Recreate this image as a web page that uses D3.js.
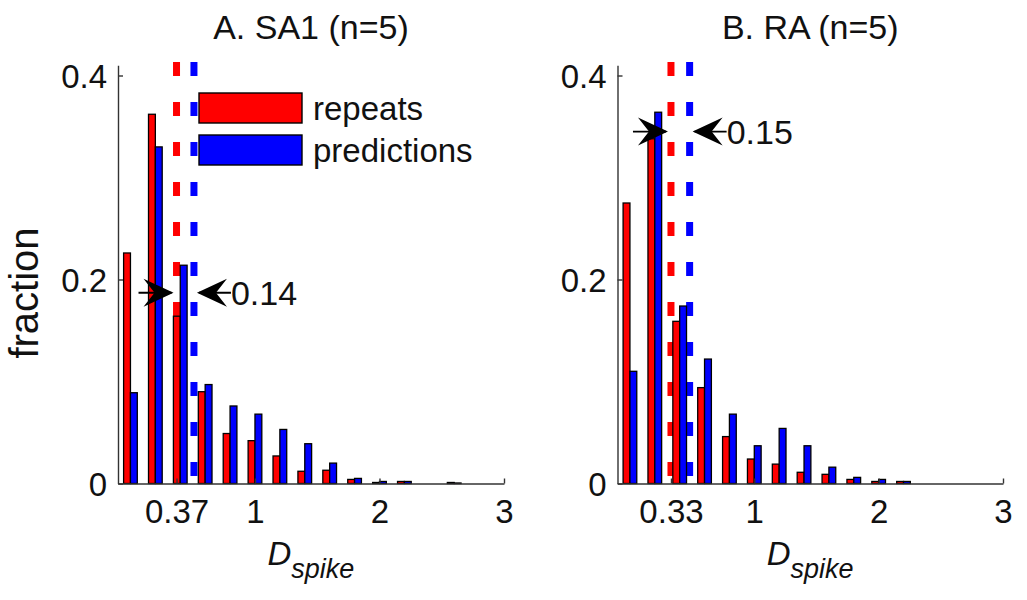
<!DOCTYPE html>
<html><head><meta charset="utf-8">
<script src="https://cdn.jsdelivr.net/npm/d3@7"></script>
<style>body{margin:0;background:#fff}svg{display:block}text{font-family:"Liberation Sans",Arial,sans-serif;fill:#111}</style>
</head><body><svg id="c" width="1027" height="600"></svg>
<script>
// ---- data ----
const binCenters = [0, 0.2, 0.4, 0.6, 0.8, 1.0, 1.2, 1.4, 1.6, 1.8, 2.0, 2.2, 2.4, 2.6];
const sa1Repeats     = [0.226, 0.362, 0.164, 0.090, 0.049, 0.042, 0.027, 0.012, 0.013, 0.004, 0.001, 0.002, 0, 0.001];
const sa1Predictions = [0.089, 0.330, 0.214, 0.097, 0.076, 0.068, 0.053, 0.039, 0.020, 0.005, 0.002, 0.002, 0, 0.0005];
const raRepeats      = [0.275, 0.338, 0.159, 0.094, 0.046, 0.024, 0.019, 0.011, 0.009, 0.004, 0.002, 0.002, 0, 0];
const raPredictions  = [0.110, 0.364, 0.174, 0.122, 0.068, 0.037, 0.054, 0.037, 0.016, 0.006, 0.004, 0.002, 0, 0];
const panelTitles = ["A. SA1 (n=5)", "B. RA (n=5)"];
const meanRepeats = [0.37, 0.33];
const meanPredictions = [0.51, 0.48];
const diffLabels = ["0.14", "0.15"];
const arrowLevels = [0.187, 0.345];
const xTickValues = [[0.37, 1, 2, 3], [0.33, 1, 2, 3]];
const xTickLabels = [["0.37", "1", "2", "3"], ["0.33", "1", "2", "3"]];
const yTickValues = [0, 0.2, 0.4];
const seriesNames = ["repeats", "predictions"];
const seriesColors = ["#ff0000", "#0000ff"];

const svg = d3.select("#c");
const panels = [
  {left: 118, right: 504, rep: sa1Repeats, pred: sa1Predictions},
  {left: 617.5, right: 1003, rep: raRepeats, pred: raPredictions}
];
const barW = 0.055;

panels.forEach((p, i) => {
  const x = d3.scaleLinear().domain([-0.1, 3]).range([p.left, p.right]);
  const y = d3.scaleLinear().domain([0, 0.41]).range([483.5, 65.3]);
  const g = svg.append("g");

  // dashed mean lines
  [[meanRepeats[i], seriesColors[0]], [meanPredictions[i], seriesColors[1]]].forEach(([v, c]) => {
    g.append("line").attr("x1", x(v)).attr("x2", x(v)).attr("y1", 62).attr("y2", y(0))
      .attr("stroke", c).attr("stroke-width", 7).attr("stroke-dasharray", "14,26");
  });

  // bars
  const data = binCenters.map((b, k) => ({b, r: p.rep[k], q: p.pred[k]}));
  g.selectAll("rect.r").data(data.filter(d => d.r > 0)).join("rect")
    .attr("x", d => x(d.b - barW)).attr("width", d => x(barW) - x(0))
    .attr("y", d => y(d.r)).attr("height", d => y(0) - y(d.r))
    .attr("fill", seriesColors[0]).attr("stroke", "#000").attr("stroke-width", 1.3);
  g.selectAll("rect.q").data(data.filter(d => d.q > 0)).join("rect")
    .attr("x", d => x(d.b)).attr("width", d => x(barW) - x(0))
    .attr("y", d => y(d.q)).attr("height", d => y(0) - y(d.q))
    .attr("fill", seriesColors[1]).attr("stroke", "#000").attr("stroke-width", 1.3);

  // axes
  const xAxis = d3.axisBottom(x).tickValues(xTickValues[i]).tickFormat((d, k) => xTickLabels[i][k])
    .tickSizeInner(-5).tickSizeOuter(0).tickPadding(16);
  const yAxis = d3.axisLeft(y).tickValues(yTickValues).tickFormat(d => d === 0 ? "0" : d3.format(".1f")(d))
    .tickSizeInner(-5).tickSizeOuter(0).tickPadding(11);
  const xa = g.append("g").attr("transform", `translate(0,${y(0)})`).call(xAxis);
  const ya = g.append("g").attr("transform", `translate(${p.left},0)`).call(yAxis);
  [xa, ya].forEach(a => {
    a.select(".domain").attr("stroke", "#333").attr("stroke-width", 1.4);
    a.selectAll(".tick line").attr("stroke", "#333").attr("stroke-width", 1.4);
    a.selectAll(".tick text").style("font-size", "33px").attr("fill", "#111")
      .style("font-family", '"Liberation Sans", Arial, sans-serif');
  });
  xa.selectAll(".tick text").attr("dy", "0.71em");
  ya.selectAll(".tick text").attr("dy", "0.36em");

  // title
  g.append("text").attr("x", (p.left + p.right) / 2).attr("y", 39).attr("text-anchor", "middle")
    .style("font-size", "34px").text(panelTitles[i]);

  // x label
  const xl = g.append("text").attr("x", x(1.1)).attr("y", 565).attr("text-anchor", "start")
    .style("font-style", "italic");
  xl.append("tspan").style("font-size", "33px").text("D");
  xl.append("tspan").style("font-size", "27px").attr("dy", 13).text("spike");

  // arrows
  const ay = y(arrowLevels[i]);
  const head = (tipX, dir) => {
    const L = 30, H = 14, N = 11;
    return `M${tipX},${ay} L${tipX - dir * L},${ay - H} L${tipX - dir * (L - N)},${ay} L${tipX - dir * L},${ay + H} Z`;
  };
  const xr = x(meanRepeats[i]), xp = x(meanPredictions[i]);
  g.append("line").attr("x1", xr - 38).attr("x2", xr - 5).attr("y1", ay).attr("y2", ay).attr("stroke", "#000").attr("stroke-width", 1.8);
  g.append("path").attr("d", head(xr - 3, 1)).attr("fill", "#000");
  g.append("line").attr("x1", xp + 5).attr("x2", xp + 37).attr("y1", ay).attr("y2", ay).attr("stroke", "#000").attr("stroke-width", 1.8);
  g.append("path").attr("d", head(xp + 3, -1)).attr("fill", "#000");
  g.append("text").attr("x", xp + 37).attr("y", ay).attr("dy", "0.36em").style("font-size", "34px").text(diffLabels[i]);

  // legend (panel A only)
  if (i === 0) {
    seriesNames.forEach((n, k) => {
      g.append("rect").attr("x", 199).attr("y", 93 + k * 42).attr("width", 103).attr("height", 30)
        .attr("fill", seriesColors[k]).attr("stroke", "#000").attr("stroke-width", 1.4);
      g.append("text").attr("x", 313).attr("y", 108 + k * 42).attr("dy", "0.36em")
        .style("font-size", "33px").text(n);
    });
  }
});

// y label
svg.append("text").attr("transform", "translate(38,293) rotate(-90)").attr("text-anchor", "middle")
  .style("font-size", "40px").text("fraction");
</script></body></html>
